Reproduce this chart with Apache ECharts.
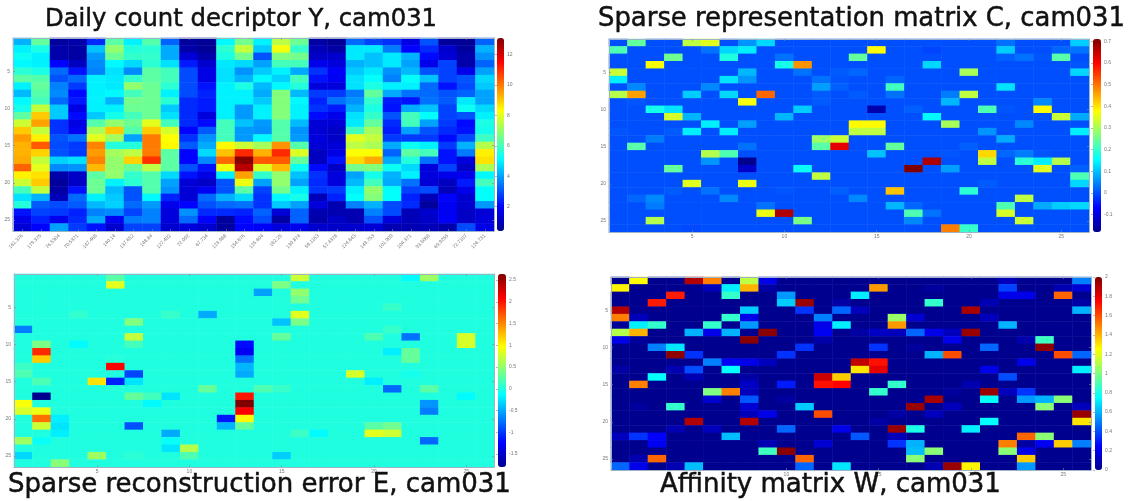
<!DOCTYPE html>
<html>
<head>
<meta charset="utf-8">
<style>html,body{margin:0;padding:0;background:#fff}#c{width:1133px;height:501px;filter:blur(0.45px)}</style>
<script src="https://cdn.jsdelivr.net/npm/echarts@6/dist/echarts.min.js"></script>
</head>
<body>
<div id="c"></div>
<script>
const titles = ['Daily count decriptor Y, cam031','Sparse representation matrix C, cam031','Sparse reconstruction error E, cam031','Affinity matrix W, cam031'];
const indices = Array.from({length:26},(_,i)=>String(i+1));
const locationLabels = ['161.376','179.375','76.5304','70.5371','147.468','140.14','137.652','148.84','127.492','72.092','67.734','123.988','154.676','125.604','182.25','130.874','59.1163','57.4378','124.843','143.753','101.909','104.371','93.5068','69.9255','72.7107','126.731'];

/* Y: one list per column, top row first */
const countY = [
[4.2,5.0,5.3,5.1,5.7,6.3,5.0,4.3,5.1,5.4,6.3,7.7,9.0,9.6,9.3,9.3,9.4,10.3,8.5,7.7,6.0,4.8,5.6,2.2,1.7,1.4],
[6.4,5.5,5.0,5.0,5.5,6.2,6.4,6.2,6.0,7.6,9.0,9.5,7.6,8.5,10.4,8.9,7.6,8.0,8.7,9.0,7.6,4.2,3.1,2.8,2.4,2.0],
[0.6,0.8,0.8,2.0,3.3,3.0,3.6,3.7,3.3,4.5,4.5,2.6,2.6,3.0,2.9,3.0,4.6,3.7,0.8,0.6,0.7,1.0,2.9,2.7,1.7,4.0],
[0.8,0.7,0.7,1.1,2.2,3.3,2.7,2.1,2.3,1.6,2.1,1.6,1.8,3.4,2.7,2.7,4.8,3.8,1.2,1.2,2.2,3.3,3.1,2.4,2.5,2.7],
[2.5,4.4,3.9,3.7,3.6,5.0,5.0,5.0,5.0,5.0,4.5,6.2,7.3,8.0,9.9,9.6,9.9,9.2,6.3,6.5,6.5,5.0,4.3,3.6,4.1,2.2],
[6.3,7.0,6.5,5.1,4.8,4.9,4.9,5.1,4.2,5.0,5.4,7.0,9.0,7.2,5.6,7.2,7.0,7.0,7.0,5.0,4.3,4.5,4.6,3.7,1.8,1.3],
[5.0,5.6,5.8,4.7,3.7,5.8,7.0,6.0,6.6,6.5,6.0,6.5,6.2,4.0,5.6,7.5,8.9,6.5,5.8,5.7,3.0,3.0,3.3,2.8,3.5,2.8],
[6.2,5.7,5.8,5.7,6.3,6.3,6.5,6.5,6.5,6.5,6.5,8.0,9.0,10.0,10.0,10.0,10.9,7.5,6.2,6.2,6.2,5.1,3.9,3.6,3.6,2.8],
[3.2,4.1,4.1,4.8,6.0,6.0,5.7,5.0,5.7,4.5,4.8,6.0,7.8,8.3,8.4,6.3,6.3,6.3,4.7,4.0,3.8,2.4,1.7,1.5,1.5,1.3],
[0.6,0.8,1.4,2.3,2.9,2.9,2.9,2.9,2.5,2.5,2.5,2.5,2.0,2.6,3.1,2.0,2.0,3.0,2.2,1.4,1.4,1.4,2.0,3.8,3.3,1.5],
[0.5,0.5,0.8,1.3,1.6,1.6,2.2,2.4,2.3,2.3,1.5,2.1,3.1,3.8,4.1,4.7,3.7,2.2,1.6,1.2,1.8,3.3,3.0,2.5,2.0,1.3],
[5.1,5.7,5.5,4.9,4.8,4.8,5.0,5.0,5.0,5.0,5.0,6.0,6.0,6.0,8.4,9.1,10.2,8.2,5.0,3.0,3.0,4.2,3.3,2.5,0.6,0.6],
[6.6,7.6,6.6,4.7,3.8,4.2,5.5,5.0,5.0,3.9,3.9,4.4,3.9,3.9,7.7,11.0,13.0,12.4,9.5,8.1,6.3,4.7,3.4,2.4,2.1,2.0],
[5.0,4.5,3.0,4.0,4.5,5.1,4.3,4.1,4.5,5.0,5.0,3.9,3.8,5.1,7.2,9.3,10.4,7.9,5.8,4.0,2.8,2.6,2.6,3.2,2.9,1.9],
[7.5,8.2,6.8,6.0,5.0,4.6,5.1,6.8,6.8,6.8,6.8,6.2,6.2,6.2,9.7,11.0,10.4,9.2,7.0,7.0,6.6,5.1,4.5,1.4,0.7,1.5],
[6.5,5.8,6.6,6.0,4.1,6.0,5.6,4.3,5.1,5.0,5.0,4.3,3.8,3.9,6.2,7.9,6.4,5.3,4.4,4.0,5.0,5.4,4.0,3.2,3.2,1.7],
[0.7,1.0,1.2,1.7,2.6,2.2,1.5,2.7,2.4,2.6,2.1,1.4,1.4,1.5,1.4,1.1,1.1,2.1,2.6,2.5,2.6,1.0,1.5,0.9,0.8,1.3],
[0.5,0.7,1.3,1.5,1.9,1.8,1.5,2.7,3.4,2.3,1.7,1.4,1.2,1.2,1.4,1.6,2.2,1.2,1.5,1.5,2.7,2.4,0.9,0.9,1.2,1.2],
[3.3,4.9,4.9,4.2,4.5,4.8,4.8,3.5,3.8,4.2,4.8,4.9,6.0,8.0,7.5,8.3,8.8,6.6,4.0,4.3,5.0,5.2,3.6,0.9,0.9,1.3],
[2.8,4.9,4.4,4.4,4.9,5.2,5.5,6.4,5.8,5.5,5.8,6.4,7.2,7.6,7.3,8.3,9.4,6.8,5.4,6.0,7.0,6.8,4.2,3.6,3.0,1.4],
[2.6,3.5,4.9,4.9,3.8,3.6,5.0,4.1,2.3,2.2,3.0,2.5,2.3,2.7,4.1,3.2,4.1,5.3,4.2,4.1,5.2,5.2,2.9,2.9,1.5,0.9],
[1.6,2.0,4.2,4.0,4.3,5.2,5.0,3.4,2.2,4.1,6.0,6.0,4.0,2.7,5.3,6.3,5.6,4.7,5.0,3.4,2.8,2.4,2.5,1.0,1.0,0.9],
[3.0,2.5,2.1,1.7,3.0,4.4,3.3,3.3,3.4,4.4,5.2,4.0,3.0,2.7,5.0,6.0,3.4,1.5,1.5,1.4,2.9,1.0,0.6,1.3,1.2,1.0],
[0.6,1.3,1.4,2.8,2.8,2.8,2.2,3.0,3.1,2.8,2.8,2.7,2.5,2.1,2.7,2.2,2.2,2.8,1.7,1.1,1.0,2.0,1.8,1.8,1.9,0.8],
[0.5,0.6,0.8,0.8,1.7,3.0,2.9,3.2,4.9,5.3,3.0,2.1,2.2,2.9,4.2,3.5,1.5,1.2,1.7,2.3,1.7,1.3,1.3,1.2,1.2,2.9],
[3.2,4.2,3.8,3.2,4.0,4.7,4.5,4.0,4.0,4.7,5.0,5.5,5.4,5.9,7.4,8.5,8.7,7.3,5.1,6.0,5.2,5.2,3.9,1.4,1.5,1.6]
];

/* sparse panels: [column, row, value]; every other cell is 0 */
const sparseC = [
[2,1,.24],[5,1,.32],[6,1,.35],[8,1,.06],[9,1,.12],[22,1,.03],[26,1,.11],
[1,2,.22],[6,2,.03],[7,2,.12],[8,2,.14],[15,2,.38],[18,2,-.01],[22,2,.11],[25,2,.02],[26,2,.03],
[4,3,.25],[7,3,.18],[10,3,.03],[14,3,.24],[22,3,.015],[23,3,.03],[24,3,.005],[25,3,.23],
[3,4,.37],[10,4,.17],[11,4,.47],[18,4,.12],[26,4,.005],
[1,5,.33],[8,5,.09],[11,5,.03],[13,5,.01],[14,5,.02],[20,5,.3],[26,5,.12],
[1,6,.14],[7,6,.13],[8,6,.06],[12,6,.03],[13,6,.005],[16,6,.02],
[2,7,.05],[6,7,.05],[12,7,.07],[13,7,.015],[16,7,.21],[22,7,.13],
[1,8,.31],[2,8,.46],[5,8,.11],[7,8,.12],[9,8,.51],[12,8,.01],[14,8,.01],[16,8,.03],[19,8,.04],[20,8,.32],
[2,9,.005],[8,9,.37],[12,9,.01],[19,9,.09],[24,9,.05],
[3,10,.17],[4,10,.13],[11,10,.11],[15,10,-.15],[17,10,.015],[21,10,.22],[22,10,.005],[24,10,.38],
[4,11,.34],[5,11,.09],[10,11,.09],[18,11,.15],[25,11,.33],[26,11,.08],
[6,12,.14],[8,12,.07],[14,12,.38],[15,12,.38],[19,12,.3],[23,12,.05],
[1,13,.005],[4,13,.01],[5,13,.14],[7,13,.14],[14,13,.32],[15,13,.32],[21,13,.06],[26,13,.14],
[3,14,.04],[12,14,.29],[13,14,.33],[22,14,.08],
[2,15,.23],[8,15,.03],[12,15,.23],[13,15,.62],[16,15,.24],[20,15,.015],
[6,16,.31],[7,16,.22],[15,16,.1],[19,16,.005],[21,16,.41],[22,16,.02],[23,16,.04],[24,16,.005],
[6,17,.06],[8,17,-.18],[18,17,.67],[21,17,.32],[23,17,.19],[24,17,.14],[25,17,.31],
[4,18,.24],[8,18,-.12],[11,18,.16],[17,18,.71],[19,18,.07],[24,18,.35],[26,18,.015],
[12,19,.32],[26,19,.22],
[5,20,.35],[8,20,.36],[21,20,.01],[26,20,.12],
[4,21,.01],[6,21,.03],[10,21,.005],[13,21,.015],[16,21,.43],[20,21,.19],
[2,22,.02],[3,22,.05],[7,22,.05],[14,22,.05],[23,22,.32],
[3,23,.04],[9,23,.03],[16,23,.09],[17,23,.02],[22,23,.22],[24,23,.08],[25,23,.11],[26,23,.12],
[9,24,.36],[10,24,.67],[17,24,.22],[18,24,.03],[22,24,.34],
[3,25,.31],[11,25,.26],[17,25,.05],[23,25,.33],
[5,26,-.005],[19,26,.49],[20,26,.2]
];
const sparseE = [
[6,1,.25],[16,1,.75],[22,1,-.15],[23,1,.55],
[6,2,.85],[15,2,.4],
[14,3,-.55],[16,3,.5],[16,4,.35],[21,5,.1],
[4,6,.08],[9,6,.1],[11,6,-.5],[16,6,.85],
[7,7,.42],[15,7,-.4],[16,7,.38],
[1,8,-.7],[21,8,.1],
[7,9,.72],[15,9,.3],[20,9,.2],[22,9,-.75],[25,9,.8],
[2,10,.4],[4,10,-.15],[7,10,.15],[13,10,-1.2],[25,10,.8],
[2,11,1.9],[13,11,-1.3],[21,11,-.2],[22,11,.3],
[2,12,1.2],[6,12,.03],[13,12,-.75],[22,12,.3],
[1,13,.12],[6,13,2.1],[13,13,-.45],
[1,14,.2],[7,14,-.95],[13,14,-.5],[19,14,.8],[22,14,-.05],
[2,15,.2],[5,15,1.1],[6,15,-1.1],[7,15,-.25],[20,15,-.2],
[6,16,.02],[11,16,.3],[14,16,.2],[15,16,.1],[21,16,-.8],[23,16,.25],
[2,17,-1.8],[7,17,.3],[8,17,.15],[9,17,-.25],[13,17,2.0],[25,17,-.15],
[1,18,.95],[8,18,-.15],[13,18,2.64],[23,18,-.6],
[1,19,.8],[2,19,.9],[13,19,2.1],[23,19,-.7],
[2,20,1.6],[3,20,-.2],[12,20,-1.15],[13,20,1.0],
[2,21,.75],[3,21,-.25],[7,21,-.9],[12,21,-.45],[13,21,.3],[20,21,.25],[21,21,.35],
[3,22,-.2],[9,22,-.5],[16,22,.12],[17,22,-.15],[20,22,.85],[21,22,.75],
[1,23,.55],[2,23,-.1],[9,23,-.1],[23,23,-.8],
[9,24,-.25],[10,24,.65],
[1,25,-.3],[5,25,.55],[7,25,.05],[10,25,.2],[15,25,-.35],
[3,26,.45]
];
const sparseW = [
[2,1,1.25],[5,1,1.9],[6,1,1.5],[8,1,1.12],[9,1,.2],[22,1,.1],[26,1,.5],
[1,2,1.27],[6,2,.1],[7,2,.72],[8,2,1.4],[9,2,.05],[15,2,1.45],[18,2,.03],[22,2,.38],[25,2,.08],[26,2,.15],
[4,3,1.7],[7,3,.85],[10,3,.55],[14,3,.72],[22,3,.2],[23,3,.2],[25,3,1.55],
[3,4,1.7],[10,4,.65],[11,4,1.95],[13,4,.05],[18,4,.85],[21,4,.08],[26,4,.05],
[1,5,1.9],[8,5,.65],[11,5,.35],[13,5,.45],[14,5,.1],[20,5,1.92],[26,5,.6],
[1,6,1.5],[2,6,.1],[7,6,.85],[8,6,.2],[12,6,.5],[16,6,1.05],[17,6,.15],[21,6,.1],
[1,7,.02],[2,7,.72],[3,7,.85],[6,7,.85],[8,7,.55],[12,7,.2],[13,7,.72],[16,7,1.45],[22,7,.6],
[1,8,1.1],[2,8,1.4],[5,8,.6],[6,8,.2],[7,8,.6],[9,8,1.98],[12,8,.22],[14,8,.05],[15,8,.12],[16,8,.1],[17,8,.45],[18,8,.2],[19,8,.1],[20,8,1.95],
[1,9,.2],[2,9,.03],[8,9,1.98],[12,9,.06],[19,9,.2],[23,9,.07],[24,9,.87],
[3,10,.5],[4,10,.7],[11,10,.35],[15,10,.35],[17,10,.03],[21,10,.45],[24,10,1.97],
[4,11,1.97],[5,11,.35],[10,11,.35],[18,11,.6],[19,11,1.6],[25,11,1.6],[26,11,.45],
[6,12,.5],[7,12,.22],[8,12,.2],[9,12,.1],[14,12,1.87],[15,12,1.72],[23,12,.2],
[1,13,.05],[4,13,.08],[5,13,.4],[7,13,.75],[14,13,1.3],[15,13,1.8],[21,13,.2],[26,13,.72],
[3,14,.75],[5,14,.08],[8,14,.05],[12,14,1.85],[13,14,1.35],[22,14,.4],
[2,15,1.5],[8,15,.12],[10,15,.3],[12,15,1.72],[13,15,1.75],[16,15,.85],[20,15,.07],
[6,16,1.0],[7,16,1.5],[8,16,.1],[15,16,.85],[19,16,.03],[21,16,1.95],[22,16,.1],[23,16,.35],
[6,17,.15],[8,17,.42],[10,17,.04],[18,17,1.92],[21,17,.75],[23,17,.55],[24,17,.6],[25,17,1.02],
[2,18,.03],[4,18,.85],[8,18,.15],[11,18,.65],[17,18,1.95],[19,18,.1],[24,18,1.02],[26,18,.1],
[8,19,.1],[9,19,.2],[12,19,1.6],[16,19,.05],[18,19,.1],[26,19,1.95],
[5,20,1.9],[8,20,1.9],[15,20,.05],[21,20,.75],[26,20,1.3],
[4,21,.08],[6,21,.1],[10,21,.45],[13,21,.2],[16,21,1.95],[17,21,.8],[20,21,.72],
[1,22,.1],[2,22,.35],[3,22,.25],[7,22,.62],[14,22,.42],[16,22,.1],[23,22,1.55],[24,22,1.02],
[3,23,.22],[9,23,.08],[12,23,.15],[16,23,.35],[17,23,.6],[22,23,1.5],[23,23,.05],[24,23,.22],[25,23,1.35],[26,23,.5],
[9,24,.87],[10,24,1.98],[17,24,.62],[18,24,1.02],[22,24,1.02],[23,24,.2],
[2,25,.07],[3,25,1.55],[11,25,1.55],[17,25,1.02],[23,25,1.35],
[1,26,.45],[2,26,.2],[4,26,.08],[5,26,.62],[11,26,.45],[13,26,.7],[18,26,.08],[19,26,1.95],[20,26,1.27],[23,26,.55]
];

/* colour-bar ranges and tick labels */
const rangeY = [0.4,13.1], ticksY = [2,4,6,8,10,12];
const rangeC = [-0.18,0.71], ticksC = [-0.1,0,0.1,0.2,0.3,0.4,0.5,0.6,0.7];
const rangeE = [-1.8,2.64], ticksE = [-1.5,-1,-0.5,0,0.5,1,1.5,2,2.5];
const rangeW = [0,2], ticksW = [0,0.2,0.4,0.6,0.8,1,1.2,1.4,1.6,1.8,2];

const jet = ['#00008f','#0000ff','#0080ff','#00ffff','#80ff80','#ffff00','#ff8000','#ff0000','#800000'];

const fromColumns = cols => cols.flatMap((col,c)=>col.map((v,r)=>[c,r,v]));
const fromSparse = list => {
  const m = new Map(list.map(([c,r,v])=>[(c-1)+','+(r-1),v]));
  const out = [];
  for (let c=0;c<26;c++) for (let r=0;r<26;r++) out.push([c,r,m.has(c+','+r)?m.get(c+','+r):0]);
  return out;
};

const panels = [
 {data:fromColumns(countY),range:rangeY,ticks:ticksY,xl:locationLabels,rot:true,
  l:13,t:38,w:481,h:193,bl:497,bw:7,tx:45,ty:7.5,fs:24.3},
 {data:fromSparse(sparseC),range:rangeC,ticks:ticksC,xl:indices,
  l:609,t:39,w:480,h:193,bl:1093,bw:8,tx:598,ty:6,fs:25.9},
 {data:fromSparse(sparseE),range:rangeE,ticks:ticksE,xl:indices,
  l:14,t:274,w:480,h:193,bl:498,bw:8,tx:8,ty:472,fs:26},
 {data:fromSparse(sparseW),range:rangeW,ticks:ticksW,xl:indices,
  l:611,t:277,w:480,h:193,bl:1095,bw:7,tx:660,ty:472,fs:26}
];

const tickFn = (i)=> (i+1)%5===0;
const faint = '#888';
const option = {animation:false,backgroundColor:'#fff',
  title:[],grid:[],xAxis:[],yAxis:[],visualMap:[],series:[]};

panels.forEach((p,i)=>{
  option.title.push({text:titles[i],left:p.tx,top:p.ty,padding:0,
    textStyle:{fontFamily:'DejaVu Sans',fontWeight:'normal',fontSize:p.fs,color:'#111',textBorderColor:'#111',textBorderWidth:0.5}});
  option.grid.push({left:p.l,top:p.t,width:p.w,height:p.h,containLabel:false,show:false});
  const labelX = {fontSize:5,color:'#777',margin:p.rot?4:2,
     interval:p.rot?0:tickFn,rotate:p.rot?45:0};
  const line = {show:true,lineStyle:{color:'#9fb3c8',width:1}};
  const tick = {show:true,inside:true,length:2,alignWithLabel:true,interval:p.rot?0:tickFn,lineStyle:{color:faint,width:.6}};
  option.xAxis.push({gridIndex:i,type:'category',position:'bottom',data:p.xl,z:5,
     axisLine:line,axisTick:tick,axisLabel:labelX,splitLine:{show:false}});
  option.yAxis.push({gridIndex:i,type:'category',position:'left',inverse:true,data:indices,z:5,
     axisLine:line,axisTick:{...tick,interval:tickFn},
     axisLabel:{fontSize:5,color:'#777',margin:3,interval:tickFn},splitLine:{show:false}});
  option.visualMap.push({type:'continuous',seriesIndex:[i],dimension:2,min:p.range[0],max:p.range[1],
     left:p.bl,top:p.t,itemWidth:p.bw,itemHeight:p.h,padding:0,calculable:false,hoverLink:false,text:null,
     showLabel:false,inRange:{color:jet},textStyle:{fontSize:5}});
  option.series.push({type:'heatmap',xAxisIndex:i,yAxisIndex:i,data:p.data,progressive:0,
     itemStyle:{borderWidth:0},emphasis:{disabled:true},silent:true});
});
/* mirrored frame axes and colour-bar axes */
panels.forEach((p,i)=>{
  const g = option.grid.length;
  option.grid.push({left:p.bl,top:p.t,width:p.bw,height:p.h,containLabel:false,show:false});
  option.xAxis.push({gridIndex:g,type:'value',show:false,min:0,max:1});
  option.yAxis.push({gridIndex:g,type:'value',position:'right',min:p.range[0],max:p.range[1],z:6,
     axisLine:{show:false},splitLine:{show:false},
     axisTick:{show:true,inside:true,length:2,customValues:p.ticks,lineStyle:{color:faint,width:.6}},
     axisLabel:{show:true,fontSize:5,color:'#777',margin:3,customValues:p.ticks}});
  option.series.push({type:'heatmap',xAxisIndex:option.xAxis.length-1,yAxisIndex:option.yAxis.length-1,data:[],silent:true});
  const tick = {show:true,inside:true,length:2,alignWithLabel:true,interval:tickFn,lineStyle:{color:faint,width:.6}};
  option.xAxis.push({gridIndex:i,type:'category',position:'top',data:indices,z:5,
     axisLine:{show:true,lineStyle:{color:'#9fb3c8'}},axisTick:tick,axisLabel:{show:false},splitLine:{show:false}});
  option.yAxis.push({gridIndex:i,type:'category',position:'right',inverse:true,data:indices,z:5,
     axisLine:{show:true,lineStyle:{color:'#9fb3c8'}},axisTick:tick,axisLabel:{show:false},splitLine:{show:false}});
});
echarts.init(document.getElementById('c'),null,{renderer:'canvas'}).setOption(option);
</script>
</body>
</html>
